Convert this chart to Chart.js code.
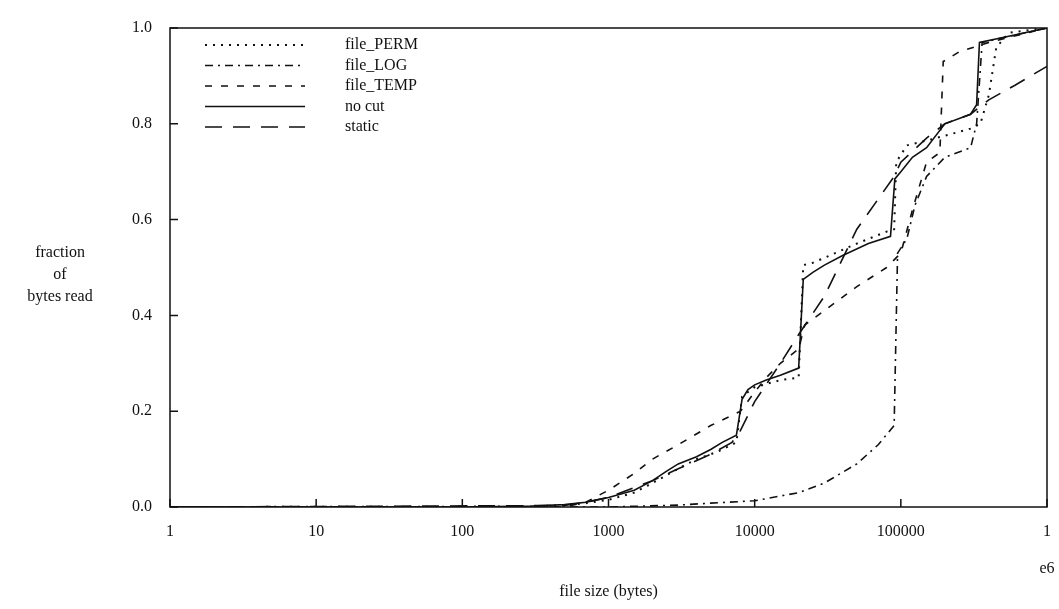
<!DOCTYPE html>
<html>
<head>
<meta charset="utf-8">
<script src="https://cdn.jsdelivr.net/npm/chart.js@4/dist/chart.umd.min.js"></script>
<style>
  html, body { margin: 0; padding: 0; background: #fff; }
  #wrap { width: 1059px; height: 609px; }
</style>
</head>
<body>
<div id="wrap"><canvas id="cdfChart"></canvas></div>
<script>
// x tick positions (bytes) and their labels
const xTicks = [1, 10, 100, 1000, 10000, 100000, 1000000];
const xTickLabels = ['1', '10', '100', '1000', '10000', '100000', ['1', '', 'e6']];
const yTicks = [0, 0.2, 0.4, 0.6, 0.8, 1.0];

// series names
const seriesNames = ['file_PERM', 'file_LOG', 'file_TEMP', 'no cut', 'static'];

// file_PERM (dotted)
const permX = [1, 300, 500, 700, 1000, 1500, 2000, 3000, 4000, 5000, 6000, 7500, 8200, 9000, 10000, 15000, 20000, 21500, 25000, 30000, 50000, 80000, 90000, 93000, 110000, 150000, 200000, 300000, 350000, 400000, 450000, 550000, 1000000];
const permY = [0, 0.001, 0.004, 0.008, 0.015, 0.03, 0.05, 0.08, 0.1, 0.11, 0.12, 0.135, 0.23, 0.24, 0.25, 0.265, 0.27, 0.505, 0.51, 0.52, 0.55, 0.575, 0.58, 0.72, 0.755, 0.765, 0.775, 0.79, 0.8, 0.86, 0.96, 0.99, 1.0];

// file_LOG (dash-dot)
const logX = [1, 1000, 3000, 5000, 10000, 20000, 30000, 50000, 70000, 90000, 95000, 110000, 125000, 150000, 200000, 300000, 330000, 360000, 1000000];
const logY = [0, 0, 0.004, 0.008, 0.013, 0.03, 0.05, 0.09, 0.13, 0.17, 0.53, 0.56, 0.63, 0.69, 0.73, 0.75, 0.8, 0.97, 1.0];

// file_TEMP (short dashes)
const tempX = [1, 500, 700, 1000, 1500, 2000, 3000, 5000, 8000, 10000, 12000, 15000, 20000, 22000, 30000, 50000, 80000, 100000, 120000, 150000, 185000, 195000, 250000, 400000, 1000000];
const tempY = [0, 0, 0.01, 0.035, 0.07, 0.1, 0.13, 0.17, 0.2, 0.24, 0.27, 0.3, 0.33, 0.38, 0.41, 0.46, 0.5, 0.53, 0.62, 0.72, 0.74, 0.93, 0.95, 0.97, 1.0];

// no cut (solid)
const noCutX = [1, 100, 300, 500, 700, 1000, 1500, 2000, 2500, 3000, 4000, 5000, 6000, 7500, 8200, 9000, 10000, 12000, 15000, 20000, 21500, 25000, 30000, 40000, 60000, 85000, 91000, 100000, 120000, 150000, 200000, 300000, 330000, 345000, 500000, 1000000];
const noCutY = [0, 0, 0.002, 0.005, 0.01, 0.02, 0.035, 0.055, 0.075, 0.09, 0.105, 0.12, 0.135, 0.15, 0.225, 0.245, 0.255, 0.265, 0.275, 0.29, 0.475, 0.49, 0.505, 0.525, 0.55, 0.565, 0.685, 0.70, 0.73, 0.75, 0.80, 0.82, 0.84, 0.97, 0.98, 1.0];

// static (long dashes)
const staticX = [1, 500, 700, 1000, 2000, 3000, 5000, 7000, 8000, 10000, 15000, 20000, 30000, 50000, 90000, 100000, 150000, 200000, 300000, 400000, 600000, 1000000];
const staticY = [0, 0.003, 0.01, 0.02, 0.055, 0.08, 0.11, 0.135, 0.16, 0.22, 0.3, 0.36, 0.44, 0.58, 0.69, 0.72, 0.77, 0.8, 0.82, 0.85, 0.88, 0.92];

const FONT = "'Liberation Serif', 'DejaVu Serif', serif";
const INK = '#111';

function pts(xs, ys) {
    return xs.map((x, i) => ({ x: x, y: ys[i] }));
}

function lineSet(label, xs, ys, dash, width) {
    return {
        label: label,
        data: pts(xs, ys),
        borderColor: INK,
        borderWidth: width,
        borderDash: dash,
        pointRadius: 0,
        tension: 0,
        fill: false
    };
}

// frame, inward tick marks, y title and legend drawn on the canvas
const decorPlugin = {
    id: 'decor',
    beforeDatasetsDraw(chart) {
        const { ctx, chartArea: a, scales } = chart;
        ctx.save();
        ctx.strokeStyle = INK;
        ctx.lineWidth = 1.5;
        ctx.setLineDash([]);
        ctx.strokeRect(a.left, a.top, a.right - a.left, a.bottom - a.top);
        ctx.beginPath();
        xTicks.forEach(v => {
            const px = scales.x.getPixelForValue(v);
            ctx.moveTo(px, a.bottom);
            ctx.lineTo(px, a.bottom - 8);
        });
        yTicks.forEach(v => {
            const py = scales.y.getPixelForValue(v);
            ctx.moveTo(a.left, py);
            ctx.lineTo(a.left + 8, py);
        });
        ctx.stroke();
        ctx.restore();
    },
    afterDraw(chart) {
        const { ctx } = chart;
        ctx.save();
        ctx.fillStyle = INK;
        ctx.font = '16px ' + FONT;
        ctx.textAlign = 'center';
        ctx.textBaseline = 'middle';
        ctx.fillText('fraction', 60, 253);
        ctx.fillText('of', 60, 275);
        ctx.fillText('bytes read', 60, 297);

        // legend
        ctx.textAlign = 'left';
        chart.data.datasets.forEach((ds, i) => {
            const y = 45 + i * 20.5;
            ctx.strokeStyle = ds.borderColor;
            ctx.lineWidth = ds.borderWidth;
            ctx.setLineDash(ds.borderDash || []);
            ctx.beginPath();
            ctx.moveTo(205, y);
            ctx.lineTo(305, y);
            ctx.stroke();
            ctx.fillText(ds.label, 345, y);
        });
        ctx.restore();
    }
};

new Chart(document.getElementById('cdfChart').getContext('2d'), {
    type: 'line',
    data: {
        datasets: [
            lineSet(seriesNames[0], permX, permY, [2, 6], 2),
            lineSet(seriesNames[1], logX, logY, [8, 5, 2, 5], 1.6),
            lineSet(seriesNames[2], tempX, tempY, [7, 9], 1.6),
            lineSet(seriesNames[3], noCutX, noCutY, [], 1.6),
            lineSet(seriesNames[4], staticX, staticY, [17, 11], 1.6)
        ]
    },
    options: {
        responsive: true,
        maintainAspectRatio: false,
        animation: false,
        layout: { padding: { left: 0, right: 12, top: 28, bottom: 0 } },
        plugins: {
            legend: { display: false },
            tooltip: { enabled: false }
        },
        scales: {
            x: {
                type: 'logarithmic',
                min: 1,
                max: 1000000,
                afterBuildTicks: scale => { scale.ticks = xTicks.map(v => ({ value: v })); },
                afterFit: scale => {
                    scale.height = 102;
                    scale.paddingLeft = 0;
                    scale.paddingRight = 0;
                },
                grid: { display: false, drawTicks: false },
                border: { display: false },
                ticks: {
                    autoSkip: false,
                    maxRotation: 0,
                    padding: 16,
                    color: INK,
                    font: { family: FONT, size: 16, lineHeight: 1.15 },
                    callback: (v, i) => xTickLabels[i]
                },
                title: {
                    display: true,
                    text: 'file size (bytes)',
                    color: INK,
                    font: { family: FONT, size: 16 },
                    padding: { top: 4, bottom: 8 }
                }
            },
            y: {
                min: 0,
                max: 1,
                afterBuildTicks: scale => { scale.ticks = yTicks.map(v => ({ value: v })); },
                afterFit: scale => {
                    scale.width = 170;
                    scale.paddingTop = 0;
                    scale.paddingBottom = 0;
                },
                grid: { display: false, drawTicks: false },
                border: { display: false },
                ticks: {
                    padding: 18,
                    color: INK,
                    font: { family: FONT, size: 16 },
                    callback: v => v.toFixed(1)
                }
            }
        }
    },
    plugins: [decorPlugin]
});
</script>
</body>
</html>
